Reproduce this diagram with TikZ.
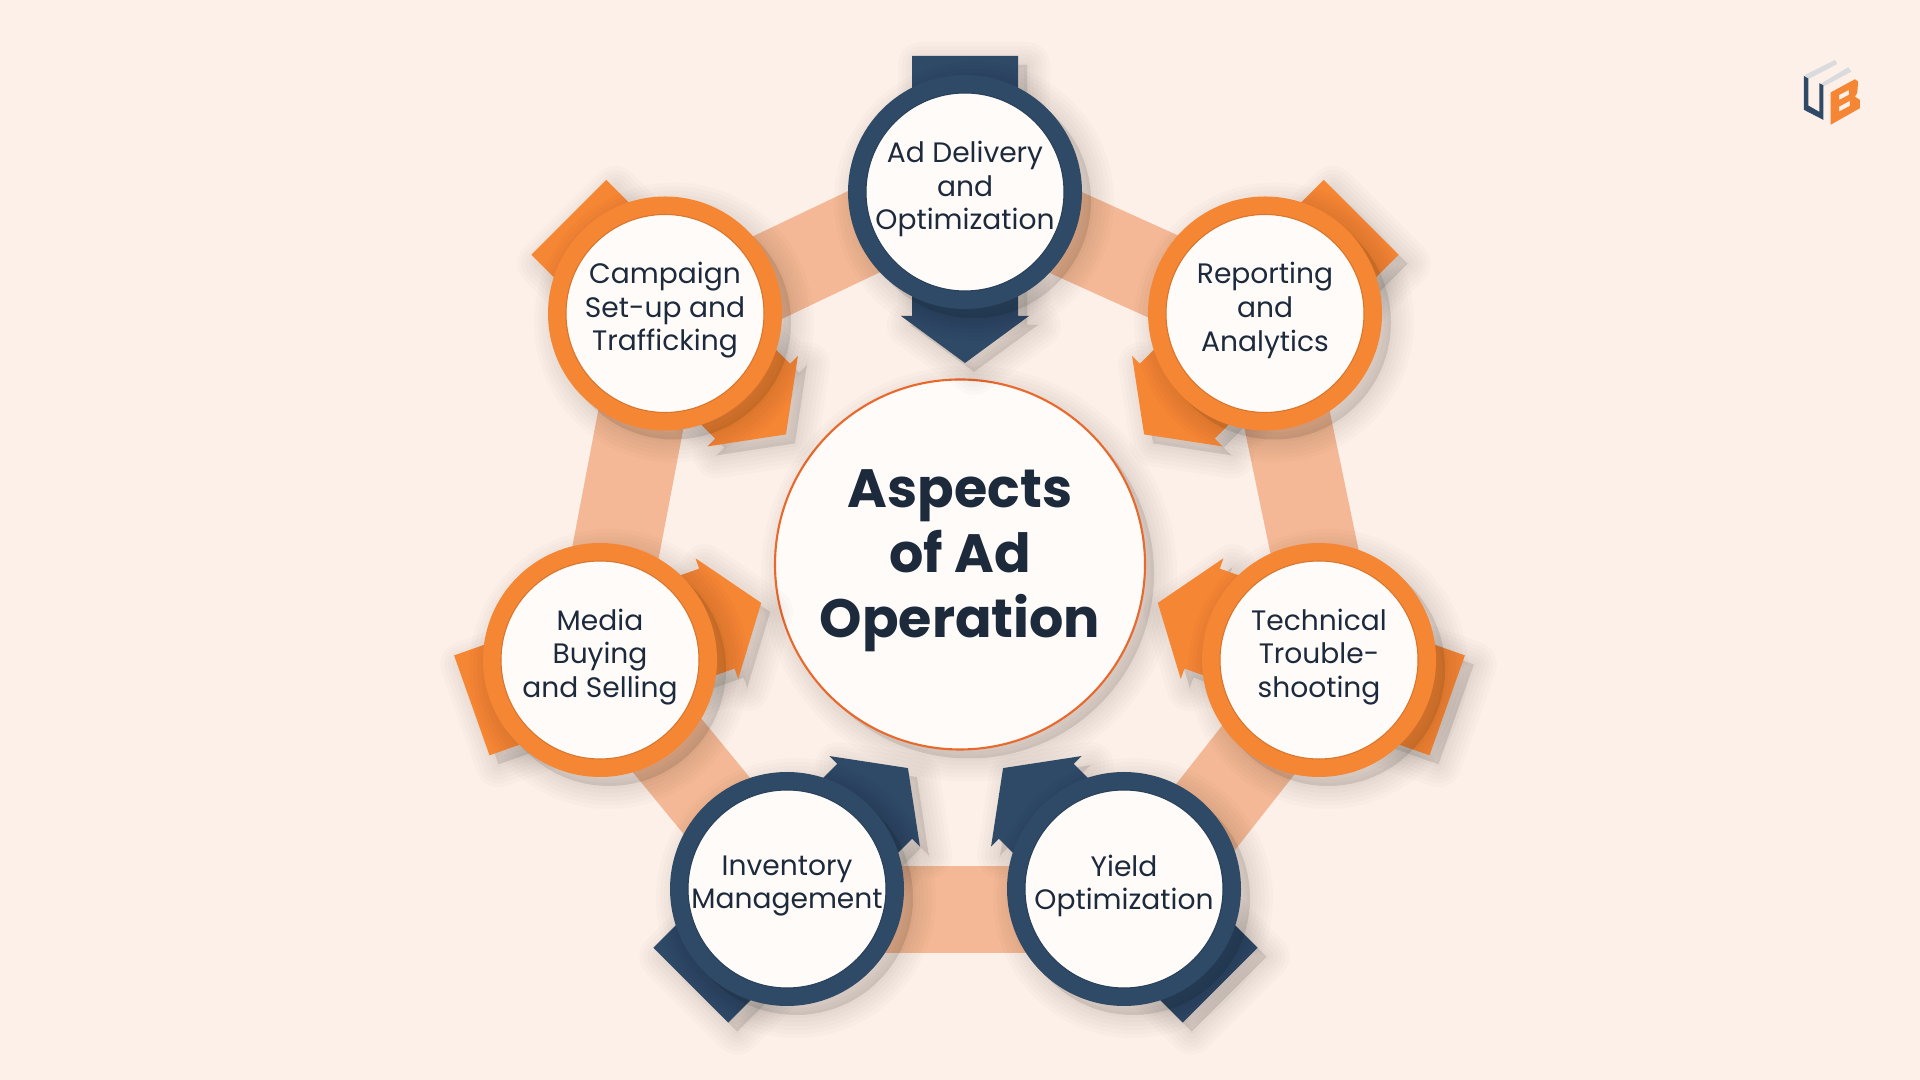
\documentclass[tikz,border=0pt]{standalone}
\usepackage{fontspec}
\setmainfont{Poppins}
\usepackage{xcolor}
\usetikzlibrary{backgrounds}
\definecolor{paper}{HTML}{FDF0E8}
\definecolor{navy}{HTML}{2E4A67}
\definecolor{tangerine}{HTML}{F58634}
\definecolor{ribbon}{HTML}{F4B896}
\definecolor{ink}{HTML}{1C2A3C}
\definecolor{snow}{HTML}{FFFBF9}
\definecolor{rim}{HTML}{E9682B}
\definecolor{mist}{HTML}{D9DBDD}
\newcommand{\dartshape}{(-1.36,.53) -- (1.24,.53) -- (1.24,.64) -- (1.71,0)
    -- (1.24,-.64) -- (1.24,-.53) -- (-1.36,-.53) -- cycle}

\begin{document}
\begin{tikzpicture}[
      badge/.style={circle, fill=snow, minimum size=2.16cm, inner sep=0pt, line width=.18cm},
      tag/.style={align=center, text=ink, font=\fontsize{8.0}{9.55}\selectfont},
      band/.style={ribbon, line width=.87cm},
      fuzz/.style={fill=black, draw=black, opacity=.016, line join=round}
  ]
    \useasboundingbox (0,0) rectangle (19.2,10.8);

    % --- Centre circle ---
    \foreach \w in {.46,.38,.30,.22,.14,.06} {
      \path[fuzz, line width=\w cm] (9.69,5.065) circle (1.85);
    }
    \node[circle, fill=snow, draw=rim, line width=.6pt, minimum size=3.7cm, inner sep=0pt]
          (hub) at (9.60,5.155) {};
    \node[align=center, text=ink, font=\fontsize{15.35}{18.5}\selectfont\bfseries]
          (title) at ([yshift=.04cm]hub.center) {Aspects\\of Ad\\Operation};

    % --- Badges: name/x/y/angle/colour/text ---
    \foreach \nm/\x/\y/\a/\col/\txt in {
        delivery/9.65/8.88/-90/navy/{Ad Delivery\\and\\Optimization},
        reporting/12.65/7.665/-135/tangerine/{Reporting\\and\\Analytics},
        technical/13.19/4.20/160.5/tangerine/{Technical\\Trouble-\\shooting},
        yield/11.24/1.91/135/navy/{Yield\\Optimization},
        inventory/7.87/1.91/45/navy/{Inventory\\Management},
        media/6.00/4.20/19.5/tangerine/{Media\\Buying\\and Selling},
        campaign/6.65/7.665/-45/tangerine/{Campaign\\Set-up and\\Trafficking}} {
      \foreach \w in {.46,.38,.30,.22,.14,.06} {
        \path[fuzz, line width=\w cm, shift={(\x+.09,\y-.09)}, rotate=\a] \dartshape;
      }
      \fill[\col, shift={(\x,\y)}, rotate=\a] \dartshape;
      \foreach \w in {.46,.38,.30,.22,.14,.06} {
        \path[fuzz, line width=\w cm] (\x+.09,\y-.09) circle (1.17);
      }
      \node[badge, draw=\col] (\nm) at (\x,\y) {};
      \draw[\col!88!black, line width=.3pt] (\nm.center) circle (.99);
      \node[tag] (\nm-text) at ([yshift=.03cm]\nm.center) {\txt};
    }

    % --- Ribbons under the badges ---
    \begin{scope}[on background layer]
      \fill[paper] (0,0) rectangle (19.2,10.8);
      \draw[band] ([yshift=.05cm]delivery.center) -- ([yshift=-.09cm]reporting.center);
      \draw[band] ([xshift=.18cm]technical.center) -- (reporting.center);
      \draw[band] ([xshift=.25cm]yield.center) -- ([xshift=.10cm]technical.center);
      \draw[band] ([yshift=-.21cm]inventory.center) -- ([yshift=-.21cm]yield.center);
      \draw[band] ([xshift=-.03cm]media.center) -- ([xshift=-.02cm]inventory.center);
      \draw[band] ([xshift=-.04cm]campaign.center) -- ([xshift=-.05cm]media.center);
      \draw[band] ([yshift=-.13cm]campaign.center) -- ([yshift=.085cm]delivery.center);
    \end{scope}

    % --- Logo ---
    \begin{scope}[shift={(17.8cm,10.4cm)}, x=.00333cm, y=-.00333cm]
      \fill[mist] (75,105) -- (165,60) -- (172,72) -- (85,118) -- cycle;
      \fill[mist] (125,130) -- (205,82) -- (215,95) -- (130,140) -- cycle;
      \fill[navy] (72,108) -- (85,116) -- (85,197) -- (118,216) -- (118,130) -- (130,136)
            -- (130,240) -- (72,210) -- cycle;
      \fill[tangerine, even odd rule] (152,158) -- (225,118) -- (235,125) -- (232,160)
            -- (225,170) -- (240,180) -- (240,205) -- (152,255) -- cycle
            (178,165) -- (207,150) -- (207,165) -- (178,180) -- cycle
            (178,200) -- (210,183) -- (210,198) -- (178,215) -- cycle;
    \end{scope}
\end{tikzpicture}
\end{document}
